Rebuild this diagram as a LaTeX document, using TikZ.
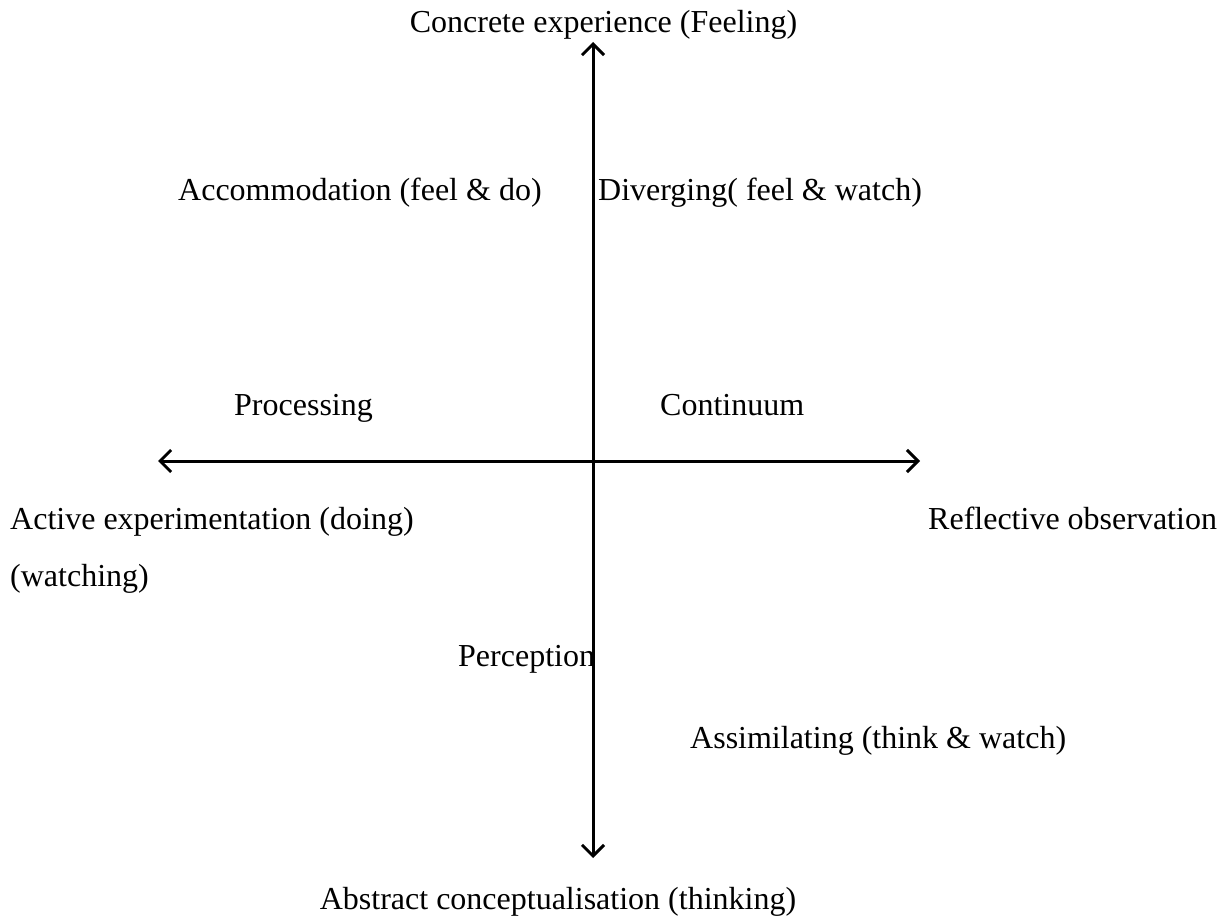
\documentclass[tikz,border=0pt]{standalone}
\usepackage{fontspec}
\setmainfont{Liberation Serif}
\usetikzlibrary{arrows.meta}
\begin{document}
\begin{tikzpicture}[x=1pt,y=-1pt,
  barb/.tip={Straight Barb[length=11pt,width=22pt,line width=3pt]},
  axis/.style={line width=3pt, barb-barb},
  lbl/.style={inner sep=0pt, anchor=base west, font=\fontsize{32}{38}\selectfont}]
  \useasboundingbox (0,0) rectangle (1229,917);
  % axis end points
  \coordinate (top) at (593,42);
  \coordinate (bot) at (593,858);
  \coordinate (lft) at (158,461);
  \coordinate (rgt) at (920,461);
  \draw[axis] (bot) -- (top);
  \draw[axis] (lft) -- (rgt);
  % labels
  \node[lbl, anchor=base] (ce) at (603.5,33) {Concrete experience (Feeling)};
  \node[lbl] (acc) at (178,201) {Accommodation (feel \& do)};
  \node[lbl] (div) at (598,201) {Diverging( feel \& watch)};
  \node[lbl] (proc) at (234,415) {Processing};
  \node[lbl] (cont) at (660,415) {Continuum};
  \node[lbl] (ae) at (10,529) {Active experimentation (doing)};
  \node[lbl] (wat) at (10,586) {(watching)};
  \node[lbl] (ro) at (928,529) {Reflective observation};
  \node[lbl] (per) at (458,666) {Perception};
  \node[lbl] (ass) at (690,748) {Assimilating (think \& watch)};
  \node[lbl, anchor=base] (ac) at (558,909) {Abstract conceptualisation (thinking)};
\end{tikzpicture}
\end{document}
